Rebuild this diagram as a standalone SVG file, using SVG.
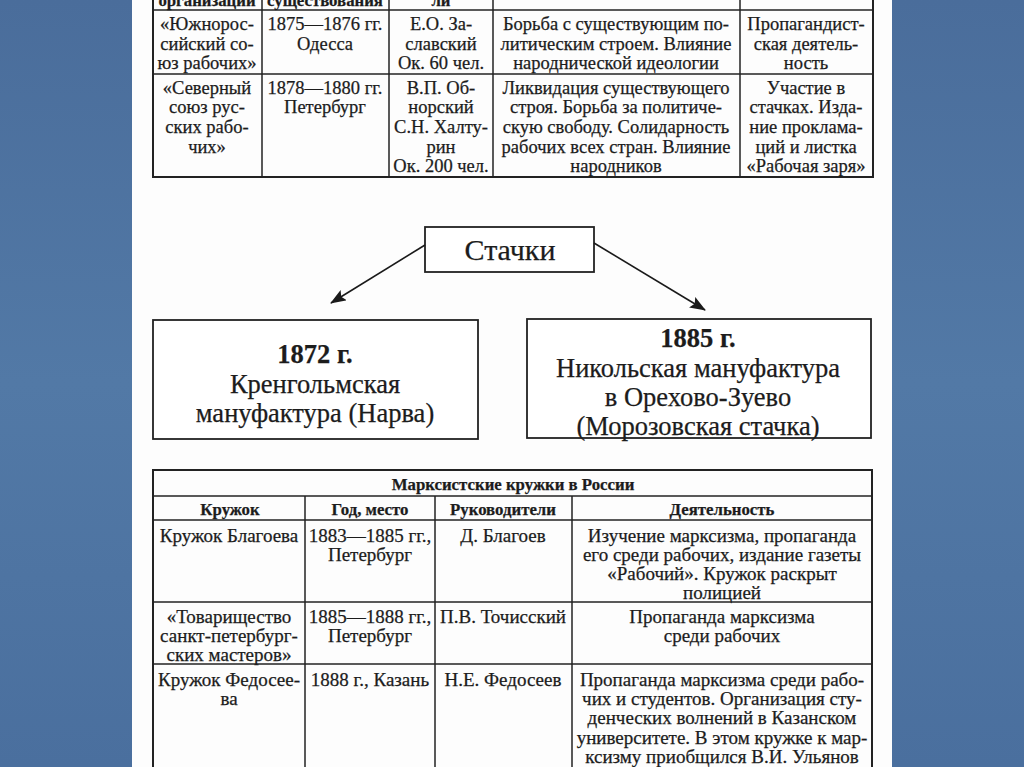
<svg xmlns="http://www.w3.org/2000/svg" width="1024" height="767" viewBox="0 0 1024 767">
<defs>
<linearGradient id="bg" x1="0" y1="0" x2="0" y2="1">
<stop offset="0" stop-color="#4a6d9b"/>
<stop offset="0.5" stop-color="#5279a6"/>
<stop offset="1" stop-color="#4a6f9e"/>
</linearGradient>
<marker id="ah2" viewBox="0 0 16 12" refX="15" refY="6" markerWidth="16" markerHeight="12" orient="auto" markerUnits="userSpaceOnUse">
<path d="M0,0 L16,6 L0,12 L3,6 Z" fill="#1a1a1a"/>
</marker>
</defs>
<style>
.t{font-family:"Liberation Serif","Times New Roman",serif;fill:#1c1c1c;text-anchor:middle;stroke:#1c1c1c;stroke-width:0.25}
.s18{font-size:18.5px}
.s19{font-size:19px}
.s17{font-size:16.8px}
.b{font-weight:bold}
.ln{stroke:#222;stroke-width:1.5;fill:none}
.ob{stroke:#222;stroke-width:2;fill:none}
.box{stroke:#222;stroke-width:1.8;fill:#fff}
.big{font-size:26.5px}
</style>
<rect x="0" y="0" width="1024" height="767" fill="url(#bg)"/>
<rect x="132" y="0" width="760" height="767" fill="#fdfdfd"/>

<g id="table-top">
<line class="ob" x1="153" y1="0" x2="153" y2="177"/>
<line class="ob" x1="873" y1="0" x2="873" y2="177"/>
<line class="ob" x1="152" y1="177" x2="874" y2="177"/>
<line class="ln" x1="153" y1="10" x2="873" y2="10"/>
<line class="ln" x1="153" y1="74" x2="873" y2="74"/>
<line class="ln" x1="262" y1="0" x2="262" y2="177"/>
<line class="ln" x1="389" y1="0" x2="389" y2="177"/>
<line class="ln" x1="493" y1="0" x2="493" y2="177"/>
<line class="ln" x1="740" y1="0" x2="740" y2="177"/>
<text class="t s17 b" x="207" y="6">организаций</text>
<text class="t s17 b" x="325" y="6">существования</text>
<text class="t s17 b" x="441" y="6">ли</text>
<g class="t s18">
<text x="207" y="30">«Южнорос-</text>
<text x="207" y="50">сийский со-</text>
<text x="207" y="69">юз рабочих»</text>
<text x="325" y="30">1875—1876 гг.</text>
<text x="325" y="50">Одесса</text>
<text x="441" y="30">Е.О. За-</text>
<text x="441" y="50">славский</text>
<text x="441" y="69">Ок. 60 чел.</text>
<text x="616" y="30">Борьба с существующим по-</text>
<text x="616" y="50">литическим строем. Влияние</text>
<text x="616" y="69">народнической идеологии</text>
<text x="806" y="30">Пропагандист-</text>
<text x="806" y="50">ская деятель-</text>
<text x="806" y="69">ность</text>
<text x="207" y="94">«Северный</text>
<text x="207" y="113">союз рус-</text>
<text x="207" y="133">ских рабо-</text>
<text x="207" y="153">чих»</text>
<text x="325" y="94">1878—1880 гг.</text>
<text x="325" y="113">Петербург</text>
<text x="441" y="94">В.П. Об-</text>
<text x="441" y="113">норский</text>
<text x="441" y="133">С.Н. Халту-</text>
<text x="441" y="153">рин</text>
<text x="441" y="172">Ок. 200 чел.</text>
<text x="616" y="94">Ликвидация существующего</text>
<text x="616" y="113">строя. Борьба за политиче-</text>
<text x="616" y="133">скую свободу. Солидарность</text>
<text x="616" y="153">рабочих всех стран. Влияние</text>
<text x="616" y="172">народников</text>
<text x="806" y="94">Участие в</text>
<text x="806" y="113">стачках. Изда-</text>
<text x="806" y="133">ние проклама-</text>
<text x="806" y="153">ций и листка</text>
<text x="806" y="172">«Рабочая заря»</text>
</g>
</g>

<g id="node-strikes">
<rect class="box" x="425" y="227" width="169" height="45"/>
<text class="t" x="510" y="260" font-size="30">Стачки</text>
</g>
<g id="node-1872">
<rect class="box" x="153" y="320" width="325" height="119"/>
<text class="t big b" x="315" y="363">1872 г.</text>
<text class="t big" x="315" y="393">Кренгольмская</text>
<text class="t big" x="315" y="422">мануфактура (Нарва)</text>
</g>
<g id="node-1885">
<rect class="box" x="527" y="319" width="344" height="119"/>
<text class="t big b" x="698" y="347">1885 г.</text>
<text class="t big" x="698" y="377">Никольская мануфактура</text>
<text class="t big" x="698" y="406">в Орехово-Зуево</text>
<text class="t big" x="698" y="435">(Морозовская стачка)</text>
</g>
<g id="connectors">
<line x1="425" y1="245" x2="331" y2="303" stroke="#1a1a1a" stroke-width="1.6" marker-end="url(#ah2)"/>
<line x1="594" y1="243" x2="705" y2="310" stroke="#1a1a1a" stroke-width="1.6" marker-end="url(#ah2)"/>
</g>

<g id="table-bottom">
<rect class="ob" x="153" y="470" width="719" height="310"/>
<line class="ln" x1="153" y1="496" x2="872" y2="496"/>
<line class="ln" x1="153" y1="520" x2="872" y2="520"/>
<line class="ln" x1="153" y1="602" x2="872" y2="602"/>
<line class="ln" x1="153" y1="664" x2="872" y2="664"/>
<line class="ln" x1="305" y1="496" x2="305" y2="767"/>
<line class="ln" x1="435" y1="496" x2="435" y2="767"/>
<line class="ln" x1="572" y1="496" x2="572" y2="767"/>
<text class="t s17 b" x="513" y="490">Марксистские кружки в России</text>
<text class="t s17 b" x="230" y="515">Кружок</text>
<text class="t s17 b" x="370" y="515">Год, место</text>
<text class="t s17 b" x="503" y="515">Руководители</text>
<text class="t s17 b" x="722" y="515">Деятельность</text>
<g class="t s19">
<text x="229" y="542">Кружок Благоева</text>
<text x="370" y="542">1883—1885 гг.,</text>
<text x="370" y="561">Петербург</text>
<text x="503" y="542">Д. Благоев</text>
<text x="722" y="542">Изучение марксизма, пропаганда</text>
<text x="722" y="561">его среди рабочих, издание газеты</text>
<text x="722" y="580">«Рабочий». Кружок раскрыт</text>
<text x="722" y="599">полицией</text>
<text x="229" y="623">«Товарищество</text>
<text x="229" y="642">санкт-петербург-</text>
<text x="229" y="661">ских мастеров»</text>
<text x="370" y="623">1885—1888 гг.,</text>
<text x="370" y="642">Петербург</text>
<text x="503" y="623">П.В. Точисский</text>
<text x="722" y="623">Пропаганда марксизма</text>
<text x="722" y="642">среди рабочих</text>
<text x="229" y="686">Кружок Федосее-</text>
<text x="229" y="705">ва</text>
<text x="370" y="686">1888 г., Казань</text>
<text x="503" y="686">Н.Е. Федосеев</text>
<text x="722" y="686">Пропаганда марксизма среди рабо-</text>
<text x="722" y="705">чих и студентов. Организация сту-</text>
<text x="722" y="724">денческих волнений в Казанском</text>
<text x="722" y="744">университете. В этом кружке к мар-</text>
<text x="722" y="763">ксизму приобщился В.И. Ульянов</text>
</g>
</g>
</svg>
